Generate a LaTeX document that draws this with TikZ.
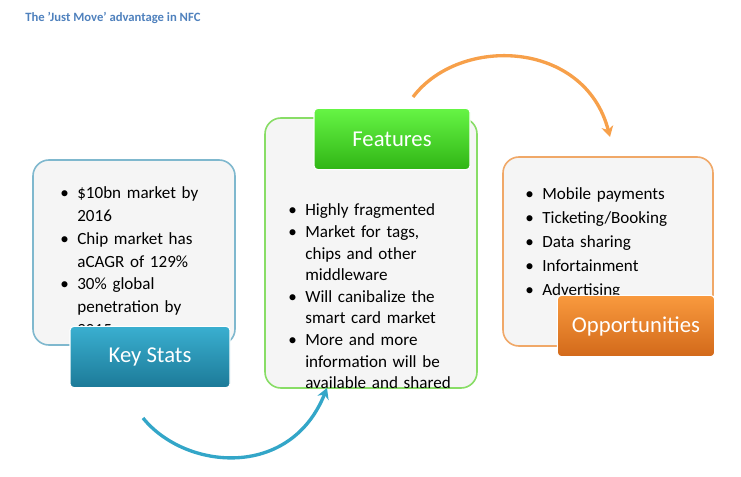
\documentclass[tikz,border=0pt]{standalone}
\usepackage{fontspec}
\setmainfont{Carlito}
\usetikzlibrary{arrows.meta}
\definecolor{ttl}{HTML}{4F81BD}
\definecolor{kb}{HTML}{7FB8CE}
\definecolor{fb}{HTML}{88DD66}
\definecolor{ob}{HTML}{F0A868}
\definecolor{kt1}{HTML}{3AAFD0}
\definecolor{kt2}{HTML}{1C7A98}
\definecolor{gt1}{HTML}{66F545}
\definecolor{gt2}{HTML}{30B515}
\definecolor{ot1}{HTML}{F99A3E}
\definecolor{ot2}{HTML}{D2691A}
\definecolor{tealarr}{HTML}{33A6C8}
\definecolor{orarr}{HTML}{F7A04A}
\newcommand\bl[1]{\par\hangindent=1em\hangafter=1\noindent\makebox[1em][l]{\textbullet}#1}
\tikzset{
 content/.style={draw=#1,line width=1.2pt,fill=gray!8,rounded corners=12pt},
 lbl/.style={draw=white,line width=0.8pt,rounded corners=3pt,text=white,font=\fontsize{17pt}{20pt}\selectfont,inner sep=0pt,anchor=center},
 txt/.style={anchor=north west,inner sep=0pt,font=\fontsize{12.8pt}{17pt}\selectfont},
}
\begin{document}
\begin{tikzpicture}[x=0.75pt,y=-0.75pt]
\useasboundingbox (0,0) rectangle (741,477);
\node[anchor=west,text=ttl,font=\bfseries\fontsize{9.5pt}{11pt}\selectfont,inner sep=0pt] (title) at (25,18) {The 'Just Move' advantage in NFC};
% content boxes
\draw[content=kb] (33,160) rectangle (235,345);
\draw[content=fb] (265,118) rectangle (477,388);
\draw[content=ob] (503,157) rectangle (713,346);
% texts
\node[txt,text width=150pt] (kt) at (60,175) {\raggedright\baselineskip=17.2pt
\bl{\$10bn market by\newline 2016}
\bl{Chip market has\newline aCAGR of 129\%}
\bl{30\% global\newline penetration by\newline 2015}\par};
\node[txt,text width=150pt] (ft) at (288,194) {\raggedright\baselineskip=16.2pt
\bl{Highly fragmented}
\bl{Market for tags,\newline chips and other\newline middleware}
\bl{Will canibalize the\newline smart card market}
\bl{More and more\newline information will be\newline available and shared}\par};
\node[txt,text width=150pt] (ot) at (525,175) {\raggedright\baselineskip=18pt
\bl{Mobile payments}
\bl{Ticketing/Booking}
\bl{Data sharing}
\bl{Infortainment}
\bl{Advertising}\par};
% labels
\node[lbl,top color=gt1,bottom color=gt2,minimum width=117pt,minimum height=46pt] (feat) at (392,139) {Features};
\node[lbl,top color=kt1,bottom color=kt2,minimum width=120pt,minimum height=46pt] (key) at (150,357) {Key Stats};
\node[lbl,top color=ot1,bottom color=ot2,minimum width=118pt,minimum height=46pt] (opp) at (636,326) {Opportunities};
% arrows
\coordinate (a1) at (143,418);
\coordinate (a2) at (327,388);
\draw[line width=2.5pt,tealarr,-{Stealth[length=8pt,width=9pt]}] (a1) .. controls (185,470) and (290,480) .. (a2);
\coordinate (b1) at (413,97);
\coordinate (b2) at (610,137);
\draw[line width=2.5pt,orarr,-{Stealth[length=8pt,width=9pt]}] (b1) .. controls (460,35) and (585,40) .. (b2);
\end{tikzpicture}
\end{document}
